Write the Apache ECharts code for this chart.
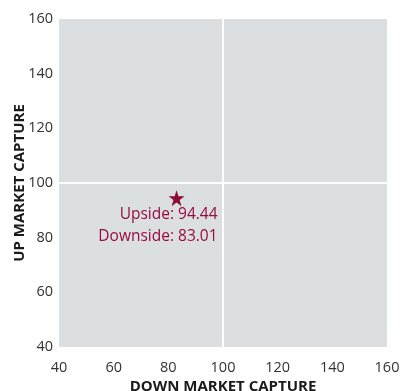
<!DOCTYPE html>
<html><head><meta charset="utf-8">
<script src="https://cdn.jsdelivr.net/npm/echarts@6/dist/echarts.min.js"></script>
<style>html,body{margin:0;padding:0;background:#fff}#c{width:401px;height:391px}</style>
</head><body><div id="c"></div>
<script>
const xTicks = [40, 60, 80, 100, 120, 140, 160];
const yTicks = [40, 60, 80, 100, 120, 140, 160];
const downside = [83.01];
const upside = [94.44];
const xName = 'DOWN MARKET CAPTURE';
const yName = 'UP MARKET CAPTURE';
const centerLine = 100;

const tickFont = "'Open Sans', sans-serif";
const font = "'Open Sans', sans-serif";
const chart = echarts.init(document.getElementById('c'));
chart.setOption({
  animation: false,
  grid: {left: 59, right: 14, top: 19, bottom: 44, show: true, backgroundColor: '#dcdfe2', borderWidth: 0, outerBoundsMode: 'none', containLabel: false},
  xAxis: {
    type: 'value', min: xTicks[0], max: xTicks[xTicks.length-1], interval: 20,
    axisLine: {show: false}, axisTick: {show: false}, splitLine: {show: false},
    axisLabel: {color: '#333', fontFamily: tickFont, fontSize: 14.5, margin: 13},
    name: xName, nameLocation: 'middle', nameGap: 32, nameMoveOverlap: false,
    nameTextStyle: {color: '#1a1a1a', fontFamily: font, fontWeight: 'bold', fontSize: 15}
  },
  yAxis: {
    type: 'value', min: yTicks[0], max: yTicks[yTicks.length-1], interval: 20,
    axisLine: {show: false}, axisTick: {show: false}, splitLine: {show: false},
    axisLabel: {color: '#333', fontFamily: tickFont, fontSize: 14.5, margin: 6},
    name: yName, nameLocation: 'middle', nameGap: 32, nameMoveOverlap: false,
    nameTextStyle: {color: '#1a1a1a', fontFamily: font, fontWeight: 'bold', fontSize: 15}
  },
  series: [{
    type: 'scatter',
    data: downside.map((d, i) => [d, upside[i]]),
    symbol: 'path://M50,0 L61.8,35.1 L98.9,35.1 L68.9,56.9 L80.2,92 L50,70.2 L19.8,92 L31.1,56.9 L1.1,35.1 L38.2,35.1 Z',
    symbolSize: 16,
    itemStyle: {color: '#8e0b38', opacity: 1},
    label: {
      show: true,
      formatter: (p) => 'Upside: ' + upside[p.dataIndex].toFixed(2) + '\nDownside: ' + downside[p.dataIndex].toFixed(2),
      position: [49, 13], align: 'right', verticalAlign: 'top',
      color: '#980c3c', fontFamily: font, fontSize: 15.5, lineHeight: 22
    },
    markLine: {
      silent: true, symbol: 'none', label: {show: false},
      lineStyle: {color: '#fff', width: 2, type: 'solid'},
      data: [{xAxis: centerLine}, {yAxis: centerLine}]
    },
    z: 5
  }]
});
</script></body></html>
